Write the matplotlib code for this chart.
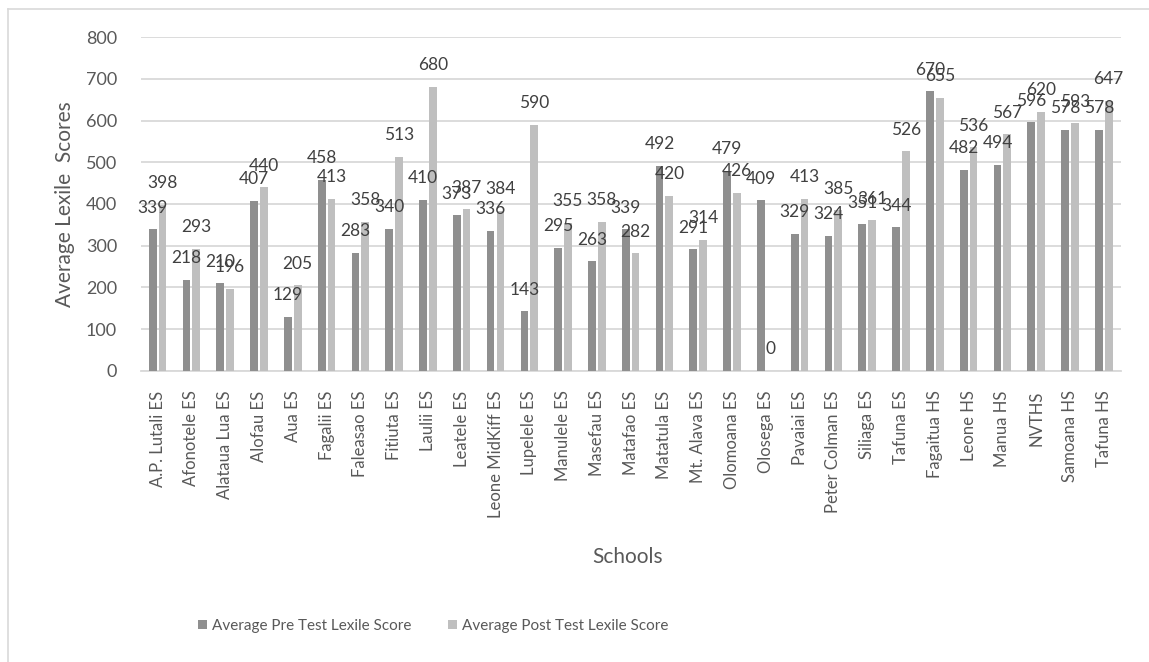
import matplotlib
matplotlib.use("Agg")
import matplotlib.pyplot as plt
from matplotlib.lines import Line2D
import numpy as np

schools = [
    "A.P. Lutali ES", "Afonotele ES", "Alataua Lua ES", "Alofau ES", "Aua ES",
    "Fagalii ES", "Faleasao ES", "Fitiuta ES", "Laulii ES", "Leatele ES",
    "Leone MidKiff ES", "Lupelele ES", "Manulele ES", "Masefau ES", "Matafao ES",
    "Matatula ES", "Mt. Alava ES", "Olomoana ES", "Olosega ES", "Pavaiai ES",
    "Peter Colman ES", "Siliaga ES", "Tafuna ES", "Fagaitua HS", "Leone HS",
    "Manua HS", "NVTHS", "Samoana HS", "Tafuna HS",
]
pre_scores = [339, 218, 210, 407, 129, 458, 283, 340, 410, 373,
              336, 143, 295, 263, 339, 492, 291, 479, 409, 329,
              324, 351, 344, 670, 482, 494, 596, 578, 578]
post_scores = [398, 293, 196, 440, 205, 413, 358, 513, 680, 387,
               384, 590, 355, 358, 282, 420, 314, 426, 0, 413,
               385, 361, 526, 655, 536, 567, 620, 593, 647]
y_ticks = [0, 100, 200, 300, 400, 500, 600, 700, 800]

plt.rcParams["font.family"] = ["Lato", "DejaVu Sans"]
TEXT = "#595959"
LABEL = "#404040"
GRID = "#d9d9d9"
PRE_COLOR = "#8f8f8f"
POST_COLOR = "#bfbfbf"

fig = plt.figure(figsize=(11.49, 6.62), dpi=100)
ax = fig.add_axes([0.1224, 0.4396, 0.8530, 0.5045])

x = np.arange(len(schools))
width = 0.23
offset = 0.145
bars_pre = ax.bar(x - offset, pre_scores, width, color=PRE_COLOR,
                  label="Average Pre Test Lexile Score", zorder=3)
bars_post = ax.bar(x + offset, post_scores, width, color=POST_COLOR,
                   label="Average Post Test Lexile Score", zorder=3)

for bars, vals in ((bars_pre, pre_scores), (bars_post, post_scores)):
    for b, v in zip(bars, vals):
        ax.annotate(f"{v}", (b.get_x() + b.get_width() / 2, v),
                    xytext=(0, 12), textcoords="offset points",
                    ha="center", va="baseline", fontsize=12.5,
                    color=LABEL, zorder=4)

ax.set_xlim(-0.5, len(schools) - 0.5)
ax.set_ylim(0, 800)
ax.set_yticks(y_ticks)
ax.set_yticklabels([str(t) for t in y_ticks])
ax.yaxis.grid(True, color=GRID, linewidth=1.3, zorder=0)
ax.set_axisbelow(True)
ax.set_xticks(x)
ax.set_xticklabels(schools, rotation=90, fontsize=12, color=TEXT)
ax.tick_params(axis="y", length=0, labelsize=13, labelcolor=TEXT, pad=17)
ax.tick_params(axis="x", length=0, pad=14)
for side in ("left", "right", "top"):
    ax.spines[side].set_visible(False)
ax.spines["bottom"].set_color(GRID)
ax.spines["bottom"].set_linewidth(1.3)

ax.set_ylabel("Average Lexile  Scores", fontsize=15, color=TEXT, labelpad=8)
fig.text(628 / 1149, 1 - 557 / 662, "Schools", ha="center", va="center",
         fontsize=15, color=TEXT)

fig.legend(handles=[bars_pre, bars_post], loc="center",
           bbox_to_anchor=(433 / 1149, 1 - 626 / 662), ncol=2, frameon=False,
           fontsize=11, labelcolor=TEXT, handlelength=0.6, handleheight=0.6,
           handletextpad=0.3, columnspacing=2.4)

# chart area frame
fig.add_artist(Line2D([7.5 / 1149, 1.0], [1 - 8.5 / 662, 1 - 8.5 / 662],
                      transform=fig.transFigure, color=GRID, linewidth=1.2))
fig.add_artist(Line2D([7.5 / 1149, 7.5 / 1149], [0.0, 1 - 8.5 / 662],
                      transform=fig.transFigure, color=GRID, linewidth=1.2))

fig.savefig("out.png", dpi=100)
